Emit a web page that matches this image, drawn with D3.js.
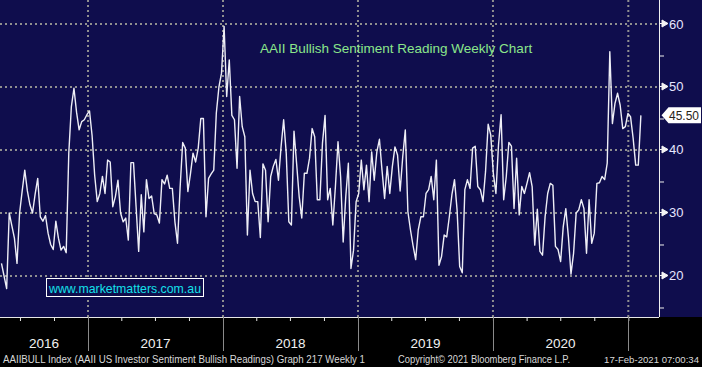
<!DOCTYPE html>
<meta charset="utf-8">
<style>
  body { margin: 0; background: #000; }
  svg { display: block; font-family: "Liberation Sans", Arial, sans-serif; }
  .grid line { stroke: #8f8f8f; stroke-width: 2; stroke-dasharray: 2,3; }
  .xaxis line, .xaxis path { stroke: #e6e6e6; }
</style>
<svg width="702" height="367"></svg>
<script src="https://d3js.org/d3.v7.min.js"></script>
<script>
// weekly AAII bullish readings (%), first reading on firstWeek
var firstWeek = "2016-05-12";
var bullish = [
  22, 20, 18, 30, 28, 26, 22, 30, 33.5, 36.8,
  33.5, 31.3, 30, 33, 35.5, 29.4, 28.7, 29.6, 26.8, 25,
  24.2, 28.7, 26, 24.1, 24.7, 23.7, 39.5, 46.9, 49.8, 46,
  43.2, 44.5, 44.8, 45.6, 46.2, 42.3, 36, 31.8, 33.1, 35.8,
  33.1, 38.4, 38.1, 31, 32.6, 35.2, 30, 28.6, 29.2, 25.7,
  38, 38, 31, 23.9, 32.9, 27, 35.3, 32.3, 32.7, 29.9,
  29.7, 28.4, 35.3, 34.6, 36, 33.9, 33.9, 28.6, 25.2, 34,
  41.2, 40.3, 33.4, 36.2, 39.5, 38.1, 40.3, 45, 45, 29.4,
  35.5, 36.2, 36.8, 45.9, 50, 52.2, 59.6, 48.5, 54.3, 45.5,
  44.8, 37.1, 48.5, 43.7, 42.1, 26.5, 36.8, 33.1, 31.8, 31.8,
  26.1, 37.8, 36.8, 28.6, 35.8, 37.4, 38.5, 35.2, 40.5, 44.8,
  39.5, 28.6, 28.1, 43, 37.9, 32.6, 29.2, 36.3, 36.3, 38.7,
  43.4, 42.1, 32.1, 32.1, 41.1, 45.5, 32.1, 33.9, 28.1, 34.2,
  41.3, 35.8, 25.4, 32.6, 37.9, 21.2, 24.1, 31.8, 33.1, 38.4,
  33.7, 37.6, 31.8, 39.7, 35.2, 39.7, 41.7, 36.8, 32.3, 37.4,
  33.1, 37.4, 40.5, 39.2, 33.5, 38.9, 43.2, 30.2, 27.3, 24.8,
  22.6, 27.3, 29.4, 29.4, 33.1, 33.7, 35.8, 32.1, 38.4, 21.7,
  23.1, 26.5, 26.2, 29.4, 32.9, 35.3, 30.5, 21.5, 20.5, 33.7,
  35.3, 33.9, 40.3, 40.6, 34.2, 33.7, 31.8, 36.6, 44.1, 42.4,
  36.3, 33.1, 40.8, 45.6, 32.1, 35.8, 41.2, 40.6, 30.7, 38.7,
  29.7, 34.2, 33.1, 34.7, 36.4, 34.2, 24.9, 30.6, 23.9, 23.3,
  29.4, 33.1, 34.7, 34.4, 24.7, 24.2, 22.3, 27.8, 30.7, 26.2,
  20.3, 23.6, 30, 30.5, 32.1, 30.7, 23.6, 32.1, 25.2, 26.8,
  34.7, 34.8, 35.8, 35.3, 37.9, 55.6, 44.2, 47.4, 49, 47.1,
  43.4, 43.7, 45.8, 45.3, 41.9, 37.6, 37.6, 45.5
];
var yTicks = [20, 30, 40, 50, 60];
var yMinorTicks = [15, 25, 35, 45, 55];
var yearStarts = ["2017-01-01", "2018-01-01", "2019-01-01", "2020-01-01", "2021-01-01"];
var yearLabels = ["2016", "2017", "2018", "2019", "2020"];
var title = "AAII Bullish Sentiment Reading Weekly Chart";
var lastValue = "45.50";
var footerLeft = "AAIIBULL Index (AAII US Investor Sentiment Bullish Readings) Graph 217  Weekly 1";
var footerMid = "Copyright\u00a9 2021 Bloomberg Finance L.P.";
var footerRight = "17-Feb-2021 07:00:34";

var svg = d3.select("svg");
var parse = d3.timeParse("%Y-%m-%d");
var plotW = 659, plotH = 317;

var x = d3.scaleTime()
          .domain([parse("2016-05-08"), parse("2021-03-25")])
          .range([0, plotW]);
var y = d3.scaleLinear()
          .domain([13.49, 63.81])
          .range([plotH, 0]);

var points = bullish.map(function(v, i) {
  return {date: d3.timeDay.offset(parse(firstWeek), 7 * i), value: v};
});

// backgrounds
svg.append("rect").attr("width", 702).attr("height", 367).attr("fill", "#000");
svg.append("rect").attr("width", 702).attr("height", plotH).attr("fill", "#0f0d4d");

//dotted grid
var grid = svg.append("g").attr("class", "grid");
grid.selectAll(null)
    .data(yTicks)
    .enter().append("line")
    .attr("x1", 0).attr("x2", plotW)
    .attr("y1", d => y(d)).attr("y2", d => y(d));
grid.selectAll(null)
    .data(yearStarts)
    .enter().append("line")
    .attr("x1", d => x(parse(d))).attr("x2", d => x(parse(d)))
    .attr("y1", 0).attr("y2", plotH);

// title + watermark
svg.append("text")
   .attr("x", 260).attr("y", 53)
   .attr("fill", "#8be68b")
   .attr("font-size", 13.5)
   .text(title);

svg.append("rect")
   .attr("x", 46.5).attr("y", 278.5).attr("width", 157).attr("height", 18)
   .attr("fill", "#0f0d4d").attr("stroke", "#fff").attr("stroke-width", 1);
svg.append("text")
   .attr("x", 125).attr("y", 292.5)
   .attr("text-anchor", "middle")
   .attr("fill", "#14e0ea")
   .attr("font-size", 13)
   .attr("textLength", 152).attr("lengthAdjust", "spacingAndGlyphs")
   .text("www.marketmatters.com.au");

//the series
var line = d3.line()
             .x(d => x(d.date))
             .y(d => y(d.value));
svg.append("path")
   .datum(points)
   .attr("d", line)
   .attr("fill", "none")
   .attr("stroke", "#eeeef6")
   .attr("stroke-width", 1.4)
   .attr("stroke-linejoin", "round");

// right axis
var right = svg.append("g");
right.append("line")
     .attr("x1", plotW + 0.5).attr("x2", plotW + 0.5)
     .attr("y1", 0).attr("y2", plotH)
     .attr("stroke", "#f0f0f0");
right.selectAll(null)
     .data(yMinorTicks)
     .enter().append("line")
     .attr("x1", plotW).attr("x2", plotW + 5)
     .attr("y1", d => y(d) + 0.5).attr("y2", d => y(d) + 0.5)
     .attr("stroke", "#f0f0f0");
right.selectAll(null)
     .data(yTicks)
     .enter().append("path")
     .attr("d", d => "M" + plotW + "," + (y(d) - 0.5) + "h3l0,-3.5l6,3.5l-6,3.5l0,-3.5h-3z")
     .attr("fill", "#f4f4f4")
     .attr("stroke", "#f4f4f4")
     .attr("stroke-width", 1);
right.selectAll(null)
     .data(yTicks)
     .enter().append("text")
     .attr("x", 669).attr("y", d => y(d) + 4.5)
     .attr("fill", "#e6e6ff")
     .attr("font-size", 13)
     .text(d => d);

// last value tag
var ly = y(+lastValue);
svg.append("path")
   .attr("d", "M661.5," + ly + "L668.5," + (ly - 8) + "H701V" + (ly + 8) + "H668.5Z")
   .attr("fill", "#fff");
svg.append("text")
   .attr("x", 669).attr("y", ly + 4.5)
   .attr("fill", "#2a2418")
   .attr("font-size", 12.5)
   .attr("textLength", 30).attr("lengthAdjust", "spacingAndGlyphs")
   .text(lastValue);

// bottom time axis
var xAxis = svg.append("g")
               .attr("class", "xaxis")
               .attr("transform", "translate(0," + plotH + ")")
               .call(d3.axisBottom(x)
                       .ticks(d3.timeMonth.every(3))
                       .tickSize(4)
                       .tickFormat(""));
xAxis.select(".domain").attr("d", "M0,0.5H" + plotW);

svg.append("g")
   .selectAll(null)
   .data(yearStarts)
   .enter().append("line")
   .attr("x1", d => Math.round(x(parse(d))) + 0.5).attr("x2", d => Math.round(x(parse(d))) + 0.5)
   .attr("y1", plotH).attr("y2", 351)
   .attr("stroke", "#8a8a8a");

svg.append("g")
   .selectAll(null)
   .data(yearLabels)
   .enter().append("text")
   .attr("x", function(d) {
     var a = Math.max(0, x(parse(d + "-01-01")));
     var b = Math.min(plotW, x(parse((+d + 1) + "-01-01")));
     return (a + b) / 2;
   })
   .attr("y", 348)
   .attr("text-anchor", "middle")
   .attr("fill", "#f2f2f2")
   .attr("font-size", 13.5)
   .text(d => d);

// footer
var foot = svg.append("g").attr("fill", "#d8d8d8").attr("font-size", 10.5);
foot.append("text").attr("x", 3).attr("y", 363)
    .attr("textLength", 362).attr("lengthAdjust", "spacingAndGlyphs").text(footerLeft);
foot.append("text").attr("x", 398).attr("y", 363)
    .attr("textLength", 172).attr("lengthAdjust", "spacingAndGlyphs").text(footerMid);
foot.append("text").attr("x", 699).attr("y", 363)
    .attr("text-anchor", "end")
    .attr("font-size", 9.6)
    .text(footerRight);
</script>
